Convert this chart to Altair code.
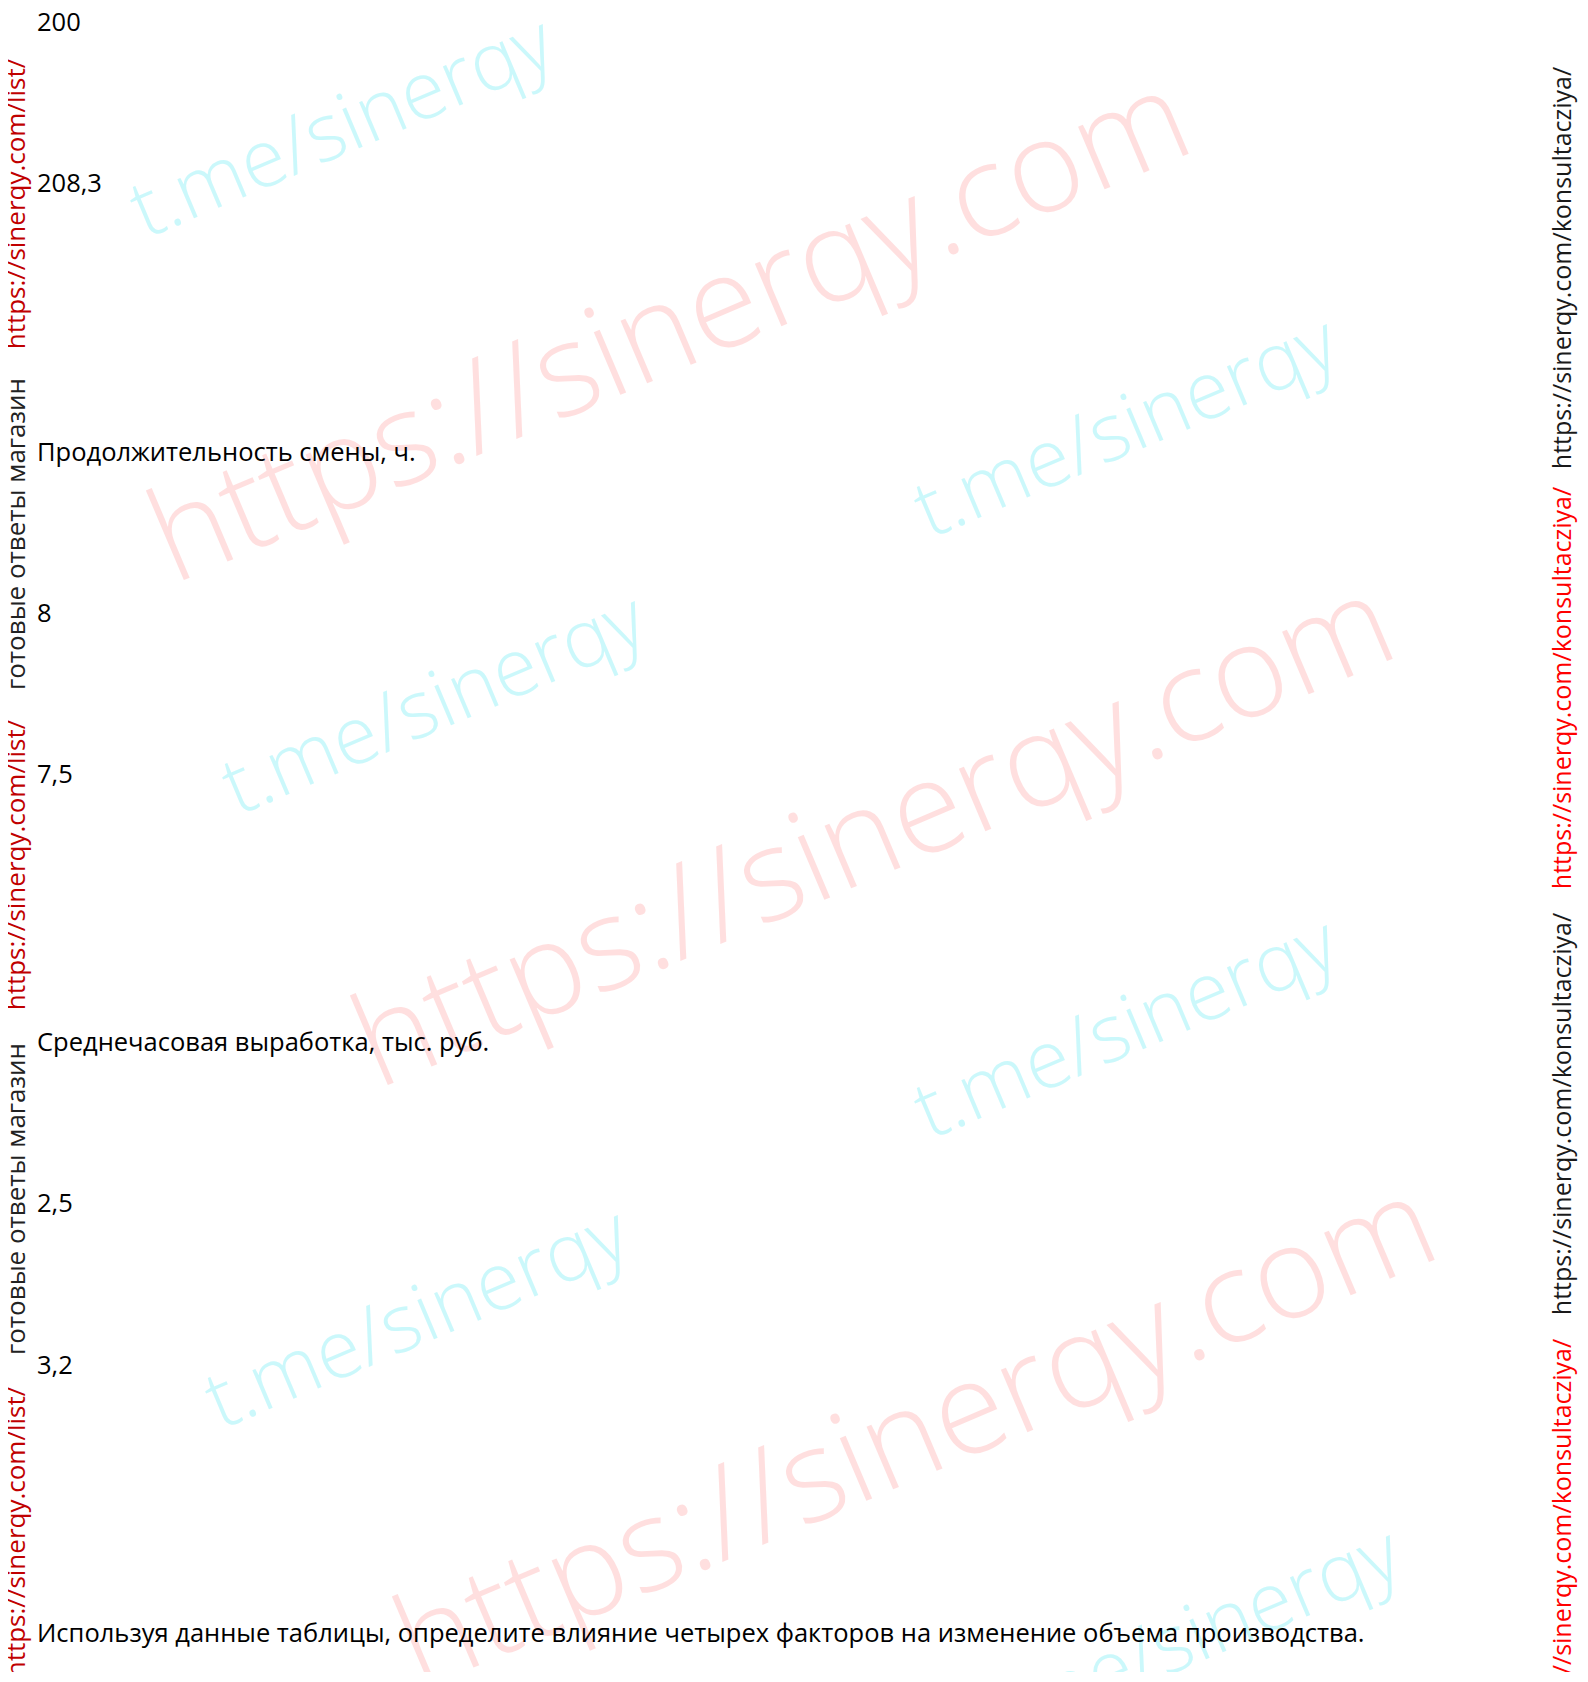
import altair as alt
import pandas as pd

# ---------------- document content ----------------
# lines of the page, empty strings are blank lines
doc_lines = [
    "200", "", "",
    "208,3", "", "", "", "",
    "Продолжительность смены, ч.", "", "",
    "8", "", "",
    "7,5", "", "", "", "",
    "Среднечасовая выработка, тыс. руб.", "", "",
    "2,5", "", "",
    "3,2", "", "", "", "",
    "Используя данные таблицы, определите влияние четырех факторов на изменение объема производства.",
]

# side watermark strips
left_texts = [
    "https://sinerqy.com/list/",
    "готовые ответы магазин",
    "https://sinerqy.com/list/",
    "готовые ответы магазин",
    "https://sinerqy.com/list/",
]
left_colors = ["#c00000", "#222222", "#c00000", "#222222", "#c00000"]

right_texts = [
    "https://sinerqy.com/konsultacziya/",
    "https://sinerqy.com/konsultacziya/",
    "https://sinerqy.com/konsultacziya/",
    "https://sinerqy.com/konsultacziya/",
]
right_colors = ["#1a1a1a", "#ff0000", "#1a1a1a", "#ff0000"]

# diagonal watermarks
wm_tme = "t.me/sinerqy"
wm_site = "https://sinerqy.com"

# ---------------- layout (page pixels) ----------------
W, H = 1572, 1664
OX, OY = 8, 8

LINE0 = 23 - OY
STEP = 53.7
d0 = -LINE0 / STEP
d1 = d0 + H / STEP

left_centers = [204, 534, 865, 1199, 1532]
right_centers = [268, 688, 1114, 1540]
tme_pos = [(343, 129), (1127, 429), (435, 706), (1127, 1030), (418, 1320), (1190, 1640)]
site_pos = [(671, 332), (875, 837), (917, 1438)]

doc = pd.DataFrame({"line": range(len(doc_lines)), "text": doc_lines})
doc = doc[doc["text"] != ""]

left_df = pd.DataFrame({
    "text": left_texts, "color": left_colors,
    "px": [17 - OX] * len(left_texts),
    "py": [c - OY for c in left_centers],
})
right_df = pd.DataFrame({
    "text": right_texts, "color": right_colors,
    "px": [1563 - OX] * len(right_texts),
    "py": [c - OY for c in right_centers],
})
tme_df = pd.DataFrame({
    "text": [wm_tme] * len(tme_pos),
    "px": [p[0] - OX for p in tme_pos],
    "py": [p[1] - OY for p in tme_pos],
})
site_df = pd.DataFrame({
    "text": [wm_site] * len(site_pos),
    "px": [p[0] - OX for p in site_pos],
    "py": [p[1] - OY for p in site_pos],
})

pxX = alt.X("px:Q", scale=None, axis=None)
pxY = alt.Y("py:Q", scale=None, axis=None)

tme_layer = alt.Chart(tme_df).mark_text(
    angle=337, align="center", baseline="middle", font="Open Sans",
    fontSize=80, fontWeight=300, color="#00e0f0", opacity=0.2,
).encode(x=pxX, y=pxY, text="text:N")

site_layer = alt.Chart(site_df).mark_text(
    angle=337, align="center", baseline="middle", font="Open Sans",
    fontSize=128, fontWeight=300, color="#ff0000", opacity=0.12,
).encode(x=pxX, y=pxY, text="text:N")

doc_layer = alt.Chart(doc).mark_text(
    align="left", baseline="middle", font="Open Sans", fontSize=25.5, color="#000000",
).encode(
    x=alt.value(37 - OX),
    y=alt.Y("line:Q", scale=alt.Scale(domain=[d0, d1], reverse=True, nice=False, zero=False), axis=None),
    text="text:N",
)

left_layer = alt.Chart(left_df).mark_text(
    angle=270, align="center", baseline="middle", font="Open Sans", fontSize=26,
).encode(x=pxX, y=pxY, text="text:N", color=alt.Color("color:N", scale=None))

right_layer = alt.Chart(right_df).mark_text(
    angle=270, align="center", baseline="middle", font="Open Sans", fontSize=25,
).encode(x=pxX, y=pxY, text="text:N", color=alt.Color("color:N", scale=None))

chart = alt.layer(
    site_layer, tme_layer, doc_layer, left_layer, right_layer
).properties(
    width=W, height=H, padding=0,
    autosize=alt.AutoSizeParams(type="none"),
    background="white",
).configure_view(stroke=None)

chart.save("out.html", embed_options={"renderer": "svg", "actions": False})
